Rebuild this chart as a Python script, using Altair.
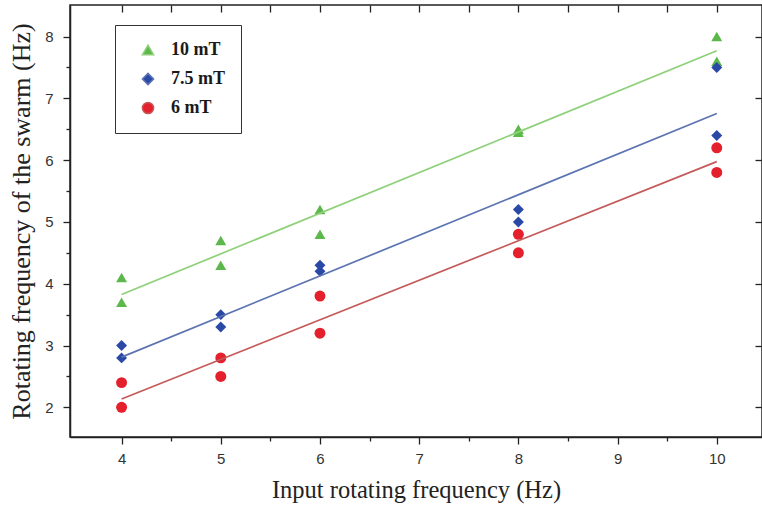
import altair as alt
import pandas as pd

x_input = [4, 4, 5, 5, 6, 6, 8, 8, 10, 10]
y_10mT = [4.1, 3.7, 4.7, 4.3, 5.2, 4.8, 6.5, 6.45, 8.0, 7.6]
y_75mT = [3.0, 2.8, 3.5, 3.3, 4.3, 4.2, 5.2, 5.0, 7.5, 6.4]
y_6mT = [2.4, 2.0, 2.8, 2.5, 3.8, 3.2, 4.8, 4.5, 6.2, 5.8]
series = ["10 mT", "7.5 mT", "6 mT"]

point_colors = ["#5cb84a", "#2a48a6", "#e3202b"]
line_colors = ["#8fd07a", "#5d74b2", "#c45a5a"]
shapes = ["triangle-up", "diamond", "circle"]

rows = []
for name, ys in zip(series, [y_10mT, y_75mT, y_6mT]):
    for xv, yv in zip(x_input, ys):
        rows.append({"x": xv, "y": yv, "series": name})
df = pd.DataFrame(rows)

x_ticks = [4 + 0.5 * i for i in range(13)]
y_ticks = [2 + 0.5 * i for i in range(13)]
y_major = [2, 3, 4, 5, 6, 7, 8]

xs = alt.Scale(domain=[3.48, 10.456], nice=False, zero=False)
ys_ = alt.Scale(domain=[1.52, 8.51], nice=False, zero=False)

tick_cond = {"condition": {"test": "datum.value % 1 === 0", "value": 7}, "value": 4}
major_label = "datum.value % 1 === 0 ? format(datum.value, 'd') : ''"

common_axis = dict(
    grid=False,
    domainColor="#222",
    domainWidth=1.5,
    tickColor="#222",
    tickWidth=1.3,
    labelFont="Liberation Sans",
    labelFontSize=15,
    labelColor="#333",
    titleFont="Liberation Serif",
    titleFontWeight="normal",
    titleColor="#222",
)

x_bottom = alt.Axis(
    orient="bottom",
    values=x_ticks,
    tickSize=tick_cond,
    labelExpr=major_label,
    labelPadding=7,
    titlePadding=12,
    titleFontSize=24.5,
    title="Input rotating frequency (Hz)",
    **common_axis,
)
y_left = alt.Axis(
    orient="left",
    values=y_ticks,
    tickSize=tick_cond,
    labelExpr=major_label,
    labelPadding=10,
    titlePadding=10,
    titleFontSize=26,
    title="Rotating frequency of the swarm (Hz)",
    **common_axis,
)
# mirrored ticks on top and right, pulled inside the frame
x_top = alt.Axis(
    orient="top", values=x_ticks, tickSize=7, offset=-7, labels=False, title=None,
    grid=False, domain=False, tickColor="#222", tickWidth=1.3,
)
y_right = alt.Axis(
    orient="right", values=y_major, tickSize=7, offset=-7, labels=False, title=None,
    grid=False, domain=False, tickColor="#222", tickWidth=1.3,
)

legend = alt.Legend(title=None)

base = alt.Chart(df)

points = base.mark_point(filled=True, opacity=1, size=120).encode(
    x=alt.X("x:Q", scale=xs, axis=x_bottom),
    y=alt.Y("y:Q", scale=ys_, axis=y_left),
    color=alt.Color("series:N", scale=alt.Scale(domain=series, range=point_colors), legend=legend),
    shape=alt.Shape("series:N", scale=alt.Scale(domain=series, range=shapes), legend=legend),
)

lines = base.transform_regression("x", "y", groupby=["series"]).mark_line(strokeWidth=1.7).encode(
    x=alt.X("x:Q", scale=xs, axis=None),
    y=alt.Y("y:Q", scale=ys_, axis=None),
    stroke=alt.Stroke("series:N", scale=alt.Scale(domain=series, range=line_colors), legend=None),
)

frame = base.mark_point(opacity=0).encode(
    x=alt.X("x:Q", scale=xs, axis=x_top),
    y=alt.Y("y:Q", scale=ys_, axis=y_right),
)

chart = alt.layer(points, lines, frame).properties(
    width=692,
    height=432,
    autosize=alt.AutoSizeParams(type="none"),
    padding={"left": 70, "top": 5, "right": 0, "bottom": 73},
).configure_view(stroke="#222", strokeWidth=1.5).configure_legend(
    orient="none",
    legendX=45,
    legendY=20,
    strokeColor="#333",
    padding=16,
    rowPadding=11,
    symbolOffset=8,
    labelOffset=14,
    labelFont="Liberation Serif",
    labelFontSize=18,
    labelFontWeight="bold",
    labelColor="#1a1a1a",
    symbolSize=125,
)

chart.save("out.html", embed_options={"renderer": "svg", "actions": False})
